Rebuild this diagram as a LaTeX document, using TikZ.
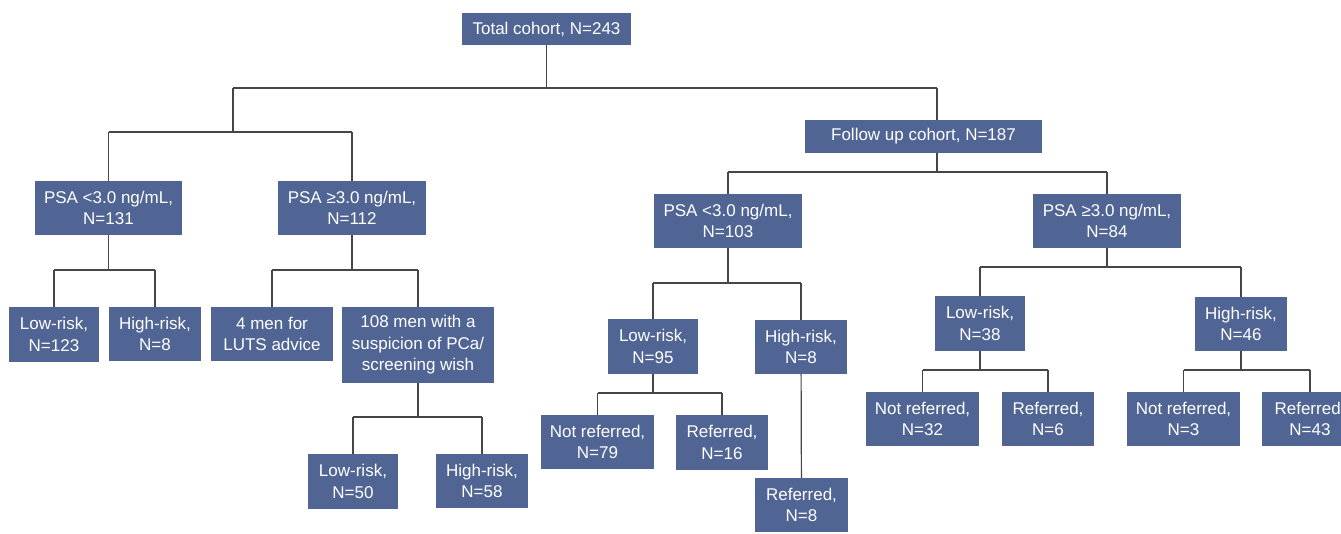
\documentclass[tikz,border=0pt]{standalone}
\usepackage{fontspec}
\setmainfont{Liberation Sans}
\definecolor{boxblue}{RGB}{80,101,148}
\definecolor{linegray}{RGB}{70,70,70}
\begin{document}
\begin{tikzpicture}[x=1pt,y=-1pt,
  box/.style={fill=boxblue,text=white,align=center,inner sep=0pt,
    font=\fontsize{17}{21.5}\selectfont},
  conn/.style={draw=linegray,line width=1.2pt}]
\clip (0,0) rectangle (1341,533);
\fill[white] (0,0) rectangle (1341,533);
% nodes
\node[box,minimum width=169pt,minimum height=32pt] (tot) at (546.5,29) {Total cohort, N=243};
\node[box,minimum width=147pt,minimum height=54pt] (psaL1) at (108.5,208) {PSA <3.0 ng/mL,\\N=131};
\node[box,minimum width=148pt,minimum height=54pt] (psaH1) at (352,208) {PSA ≥3.0 ng/mL,\\N=112};
\node[box,minimum width=90pt,minimum height=55pt] (lr123) at (54,334.5) {Low-risk,\\N=123};
\node[box,minimum width=92pt,minimum height=54pt] (hr8a) at (155,334) {High-risk,\\N=8};
\node[box,minimum width=122pt,minimum height=54pt] (luts) at (272,334) {4 men for\\LUTS advice};
\node[box,minimum width=152pt,minimum height=76pt] (m108) at (418,345) {108 men with a\\suspicion of PCa/\\screening wish};
\node[box,minimum width=90pt,minimum height=55pt] (lr50) at (353,481.5) {Low-risk,\\N=50};
\node[box,minimum width=92pt,minimum height=54pt] (hr58) at (482,481) {High-risk,\\N=58};
\node[box,minimum width=237pt,minimum height=33pt] (fu) at (923.5,136.5) {Follow up cohort, N=187};
\node[box,minimum width=148pt,minimum height=54pt] (psaL2) at (728,221) {PSA <3.0 ng/mL,\\N=103};
\node[box,minimum width=148pt,minimum height=54pt] (psaH2) at (1107,221) {PSA ≥3.0 ng/mL,\\N=84};
\node[box,minimum width=90pt,minimum height=55pt] (lr95) at (653,346.5) {Low-risk,\\N=95};
\node[box,minimum width=92pt,minimum height=54pt] (hr8b) at (801,347) {High-risk,\\N=8};
\node[box,minimum width=113pt,minimum height=54pt] (nr79) at (597.5,442) {Not referred,\\N=79};
\node[box,minimum width=92pt,minimum height=55pt] (r16) at (722,442.5) {Referred,\\N=16};
\node[box,minimum width=93pt,minimum height=54pt] (r8) at (801.5,505) {Referred,\\N=8};
\node[box,minimum width=90pt,minimum height=55pt] (lr38) at (980,323.5) {Low-risk,\\N=38};
\node[box,minimum width=92pt,minimum height=54pt] (hr46) at (1241,324) {High-risk,\\N=46};
\node[box,minimum width=113pt,minimum height=54pt] (nr32) at (922.5,419) {Not referred,\\N=32};
\node[box,minimum width=92pt,minimum height=54pt] (r6) at (1048,419) {Referred,\\N=6};
\node[box,minimum width=113pt,minimum height=54pt] (nr3) at (1183.5,419) {Not referred,\\N=3};
\node[box,minimum width=96pt,minimum height=54pt] (r43) at (1310,419) {Referred,\\N=43};
% junction coordinates
\coordinate (t0) at (546.5,88);
\coordinate (tL) at (233,88);
\coordinate (tR) at (937,88);
\coordinate (aL) at (108.5,132);
\coordinate (aR) at (352,132);
\coordinate (b0) at (108.5,270);
\coordinate (bL) at (54,270);
\coordinate (bR) at (155,270);
\coordinate (c0) at (352,270);
\coordinate (cL) at (272,270);
\coordinate (cR) at (418,270);
\coordinate (d0) at (418,417);
\coordinate (dL) at (353,417);
\coordinate (dR) at (482,417);
\coordinate (e0) at (937,172);
\coordinate (eL) at (728,172);
\coordinate (eR) at (1107,172);
\coordinate (f0) at (728,283);
\coordinate (fL) at (653,283);
\coordinate (fR) at (801,283);
\coordinate (g0) at (653,393);
\coordinate (gL) at (597.5,393);
\coordinate (gR) at (722,393);
\coordinate (h0) at (1107,267);
\coordinate (hL) at (980,267);
\coordinate (hR) at (1241,267);
\coordinate (i0) at (980,370);
\coordinate (iL) at (922.5,370);
\coordinate (iR) at (1048,370);
\coordinate (k0) at (1241,370);
\coordinate (kL) at (1183.5,370);
\coordinate (kR) at (1310,370);
% connectors
\draw[conn] (tot) -- (t0);
\draw[conn] (tL) -- (tR);
\draw[conn] (tR) -- (tR |- fu.north);
\draw[conn] (tL) -- (tL |- aL);
\draw[conn] (aL) -- (aR);
\draw[conn] (aL) -- (psaL1);
\draw[conn] (aR) -- (psaH1);
\draw[conn] (psaL1) -- (b0);
\draw[conn] (bL) -- (bR);
\draw[conn] (bL) -- (lr123);
\draw[conn] (bR) -- (hr8a);
\draw[conn] (psaH1) -- (c0);
\draw[conn] (cL) -- (cR);
\draw[conn] (cL) -- (luts);
\draw[conn] (cR) -- (m108);
\draw[conn] (m108) -- (d0);
\draw[conn] (dL) -- (dR);
\draw[conn] (dL) -- (lr50);
\draw[conn] (dR) -- (hr58);
\draw[conn] (fu.south -| e0) -- (e0);
\draw[conn] (eL) -- (eR);
\draw[conn] (eL) -- (psaL2);
\draw[conn] (eR) -- (psaH2);
\draw[conn] (psaL2) -- (f0);
\draw[conn] (fL) -- (fR);
\draw[conn] (fL) -- (lr95);
\draw[conn] (fR) -- (hr8b);
\draw[conn] (lr95) -- (g0);
\draw[conn] (gL) -- (gR);
\draw[conn] (gL) -- (nr79);
\draw[conn] (gR) -- (r16);
\draw[conn] (hr8b) -- (r8);
\draw[conn] (psaH2) -- (h0);
\draw[conn] (hL) -- (hR);
\draw[conn] (hL) -- (lr38);
\draw[conn] (hR) -- (hr46);
\draw[conn] (lr38) -- (i0);
\draw[conn] (iL) -- (iR);
\draw[conn] (iL) -- (nr32);
\draw[conn] (iR) -- (r6);
\draw[conn] (hr46) -- (k0);
\draw[conn] (kL) -- (kR);
\draw[conn] (kL) -- (nr3);
\draw[conn] (kR) -- (r43);
\end{tikzpicture}
\end{document}
